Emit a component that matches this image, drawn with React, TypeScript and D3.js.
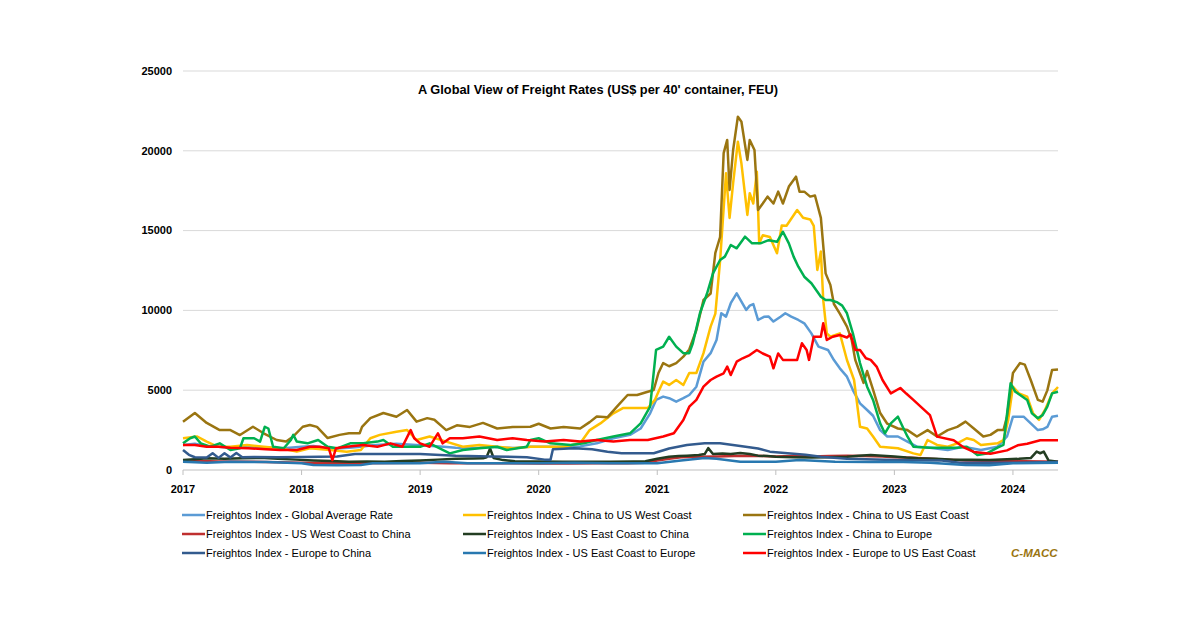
import React from 'react';
import * as d3 from 'd3';

// [decimal year, US$ per FEU]
const globalAvg: [number, number][] = [
  [2017.0, 1570], [2017.1, 1650], [2017.2, 1500], [2017.3, 1450], [2017.4, 1400], [2017.5, 1500],
  [2017.6, 1450], [2017.7, 1400], [2017.8, 1350], [2017.9, 1400], [2018.0, 1450], [2018.1, 1500],
  [2018.2, 1400], [2018.3, 1350], [2018.4, 1400], [2018.5, 1450], [2018.6, 1550], [2018.7, 1600],
  [2018.8, 1650], [2018.9, 1600], [2019.0, 1550], [2019.1, 1500], [2019.2, 1450], [2019.3, 1400],
  [2019.4, 1380], [2019.5, 1400], [2019.6, 1450], [2019.7, 1400], [2019.8, 1380], [2019.93, 1460],
  [2020.1, 1450], [2020.2, 1460], [2020.35, 1480], [2020.49, 1670], [2020.63, 1990], [2020.77, 2200],
  [2020.86, 2600], [2020.94, 3550], [2020.99, 4390], [2021.05, 4600], [2021.1, 4500], [2021.16, 4280],
  [2021.22, 4500], [2021.27, 4700], [2021.33, 5220], [2021.39, 6790], [2021.45, 7320], [2021.5, 8140],
  [2021.54, 9820], [2021.58, 9610], [2021.62, 10450], [2021.67, 11070], [2021.71, 10550], [2021.75, 10030],
  [2021.78, 10300], [2021.81, 10400], [2021.85, 9400], [2021.9, 9600], [2021.94, 9610], [2021.98, 9300],
  [2022.04, 9600], [2022.08, 9820], [2022.13, 9610], [2022.19, 9400], [2022.24, 9190], [2022.3, 8560],
  [2022.36, 7730], [2022.44, 7520], [2022.49, 6890], [2022.54, 6370], [2022.6, 5850], [2022.65, 5010],
  [2022.71, 4180], [2022.77, 3760], [2022.82, 3400], [2022.88, 2500], [2022.94, 2100], [2023.03, 2100],
  [2023.11, 1780], [2023.19, 1460], [2023.3, 1400], [2023.45, 1250], [2023.58, 1460], [2023.73, 1250],
  [2023.87, 1460], [2023.95, 2100], [2024.0, 3340], [2024.09, 3340], [2024.15, 2920], [2024.21, 2500],
  [2024.25, 2550], [2024.29, 2700], [2024.33, 3340], [2024.38, 3400],
];

const chinaUsWest: [number, number][] = [
  [2017.0, 1990], [2017.12, 2100], [2017.2, 1780], [2017.29, 1460], [2017.4, 1460], [2017.54, 1570],
  [2017.68, 1460], [2017.82, 1360], [2017.96, 1150], [2018.07, 1360], [2018.24, 1250], [2018.38, 1150],
  [2018.5, 1250], [2018.58, 1990], [2018.66, 2200], [2018.8, 2400], [2018.89, 2500], [2018.97, 1880],
  [2019.08, 2100], [2019.22, 1780], [2019.36, 1460], [2019.5, 1570], [2019.65, 1460], [2019.78, 1360],
  [2019.93, 1460], [2020.07, 1460], [2020.21, 1460], [2020.35, 1670], [2020.43, 2500], [2020.52, 2920],
  [2020.63, 3550], [2020.71, 3880], [2020.92, 3880], [2020.98, 4390], [2021.01, 4900], [2021.05, 5540],
  [2021.1, 5330], [2021.16, 5640], [2021.22, 5330], [2021.27, 6080], [2021.33, 6080], [2021.39, 7320],
  [2021.45, 8980], [2021.49, 9800], [2021.53, 13100], [2021.58, 18590], [2021.61, 15790], [2021.64, 17970],
  [2021.68, 20570], [2021.71, 19200], [2021.76, 15980], [2021.78, 17340], [2021.81, 16700], [2021.84, 18690],
  [2021.86, 14200], [2021.89, 14710], [2021.95, 14600], [2022.01, 13580], [2022.05, 15320], [2022.09, 15300],
  [2022.18, 16290], [2022.23, 15800], [2022.29, 15700], [2022.32, 15300], [2022.35, 12530], [2022.38, 13690],
  [2022.4, 10650], [2022.43, 8560], [2022.46, 8350], [2022.54, 8560], [2022.6, 6890], [2022.66, 5640],
  [2022.71, 2710], [2022.77, 2600], [2022.82, 2100], [2022.88, 1460], [2023.03, 1360], [2023.16, 1040],
  [2023.22, 940], [2023.28, 1880], [2023.36, 1570], [2023.45, 1460], [2023.53, 1670], [2023.61, 1990],
  [2023.67, 1880], [2023.73, 1570], [2023.87, 1670], [2023.92, 1880], [2023.96, 3140], [2024.0, 5220],
  [2024.05, 4800], [2024.12, 4600], [2024.17, 3550], [2024.22, 3140], [2024.27, 3760], [2024.33, 4800],
  [2024.38, 5200],
];

const chinaUsEast: [number, number][] = [
  [2017.0, 3030], [2017.1, 3570], [2017.2, 2950], [2017.31, 2500], [2017.4, 2500], [2017.48, 2190],
  [2017.59, 2710], [2017.68, 2300], [2017.79, 1880], [2017.87, 1780], [2017.93, 2100], [2018.01, 2710],
  [2018.07, 2820], [2018.13, 2700], [2018.22, 2000], [2018.32, 2200], [2018.4, 2300], [2018.49, 2300],
  [2018.51, 2700], [2018.58, 3250], [2018.69, 3570], [2018.8, 3340], [2018.89, 3760], [2018.97, 3030],
  [2019.06, 3250], [2019.12, 3150], [2019.22, 2500], [2019.31, 2800], [2019.42, 2700], [2019.53, 2950],
  [2019.65, 2600], [2019.78, 2700], [2019.93, 2710], [2020.0, 2900], [2020.1, 2600], [2020.21, 2700],
  [2020.35, 2600], [2020.43, 3000], [2020.49, 3350], [2020.58, 3300], [2020.66, 3970], [2020.75, 4700],
  [2020.83, 4700], [2020.92, 4900], [2020.97, 5010], [2021.01, 6080], [2021.05, 6700], [2021.1, 6500],
  [2021.16, 6700], [2021.22, 7100], [2021.27, 7550], [2021.33, 8770], [2021.39, 10650], [2021.45, 11060],
  [2021.49, 13600], [2021.53, 14600], [2021.56, 19850], [2021.59, 20680], [2021.61, 17550], [2021.64, 20050],
  [2021.68, 22140], [2021.71, 21820], [2021.76, 19430], [2021.78, 20680], [2021.82, 20050], [2021.85, 16290],
  [2021.89, 16700], [2021.93, 17130], [2021.98, 16700], [2022.02, 17440], [2022.06, 16700], [2022.11, 17760],
  [2022.17, 18380], [2022.2, 17440], [2022.24, 17440], [2022.29, 17130], [2022.33, 17200], [2022.38, 15800],
  [2022.42, 12320], [2022.46, 11600], [2022.49, 10400], [2022.54, 9800], [2022.6, 8980], [2022.64, 8150],
  [2022.67, 6900], [2022.71, 6080], [2022.74, 5460], [2022.77, 6200], [2022.82, 5030], [2022.88, 3570],
  [2022.94, 2900], [2023.03, 2600], [2023.11, 2500], [2023.19, 2100], [2023.28, 2500], [2023.36, 2100],
  [2023.45, 2500], [2023.53, 2700], [2023.6, 3030], [2023.67, 2600], [2023.75, 2100], [2023.81, 2200],
  [2023.87, 2500], [2023.92, 2500], [2023.95, 3350], [2024.0, 6080], [2024.06, 6700], [2024.1, 6600],
  [2024.15, 5640], [2024.21, 4390], [2024.25, 4280], [2024.29, 4990], [2024.33, 6270], [2024.38, 6300],
];

const usWestChina: [number, number][] = [
  [2017.0, 520], [2017.15, 560], [2017.3, 540], [2017.6, 520], [2017.8, 480], [2018.0, 450],
  [2018.25, 430], [2018.5, 420], [2018.75, 440], [2019.0, 450], [2019.25, 430], [2019.5, 420],
  [2019.75, 430], [2020.0, 400], [2020.25, 410], [2020.5, 420], [2020.75, 430], [2020.9, 450],
  [2021.0, 600], [2021.1, 700], [2021.2, 800], [2021.35, 830], [2021.5, 850], [2021.65, 880],
  [2021.8, 900], [2022.0, 850], [2022.15, 870], [2022.3, 850], [2022.45, 880], [2022.6, 900],
  [2022.75, 870], [2022.9, 850], [2023.0, 800], [2023.15, 760], [2023.3, 700], [2023.45, 650],
  [2023.6, 600], [2023.75, 580], [2023.9, 550], [2024.1, 550], [2024.25, 540], [2024.38, 520],
];

const usEastChina: [number, number][] = [
  [2017.0, 630], [2017.1, 680], [2017.2, 730], [2017.35, 700], [2017.5, 730], [2017.65, 760],
  [2017.8, 700], [2017.95, 650], [2018.1, 600], [2018.25, 560], [2018.4, 520], [2018.55, 530],
  [2018.7, 520], [2018.85, 560], [2019.0, 600], [2019.15, 650], [2019.3, 700], [2019.45, 720],
  [2019.53, 730], [2019.56, 800], [2019.59, 1350], [2019.62, 750], [2019.7, 620], [2019.8, 550],
  [2020.0, 530], [2020.2, 520], [2020.4, 510], [2020.6, 520], [2020.8, 530], [2020.9, 550],
  [2021.0, 700], [2021.1, 835], [2021.18, 880], [2021.25, 900], [2021.35, 940], [2021.4, 1000],
  [2021.43, 1370], [2021.47, 1000], [2021.55, 1040], [2021.62, 1000], [2021.7, 1060], [2021.78, 1000],
  [2021.85, 900], [2021.93, 870], [2022.0, 835], [2022.15, 800], [2022.3, 780], [2022.45, 800],
  [2022.6, 835], [2022.7, 900], [2022.8, 940], [2022.9, 900], [2023.0, 850], [2023.1, 780],
  [2023.2, 730], [2023.35, 700], [2023.5, 650], [2023.65, 640], [2023.8, 630], [2023.95, 680],
  [2024.05, 700], [2024.15, 750], [2024.2, 1150], [2024.23, 1050], [2024.26, 1150], [2024.3, 600],
  [2024.38, 520],
];

const chinaEurope: [number, number][] = [
  [2017.0, 1670], [2017.06, 1990], [2017.1, 2100], [2017.15, 1670], [2017.23, 1460], [2017.31, 1670],
  [2017.4, 1250], [2017.48, 1360], [2017.51, 1990], [2017.6, 1990], [2017.65, 1780], [2017.69, 2710],
  [2017.72, 2600], [2017.76, 1460], [2017.85, 1360], [2017.91, 1880], [2017.93, 2200], [2017.96, 1780],
  [2018.05, 1670], [2018.14, 1880], [2018.22, 1460], [2018.3, 1360], [2018.41, 1670], [2018.52, 1670],
  [2018.64, 1780], [2018.69, 1880], [2018.77, 1460], [2018.89, 1460], [2019.0, 1460], [2019.08, 1670],
  [2019.25, 1040], [2019.36, 1250], [2019.5, 1360], [2019.65, 1460], [2019.73, 1250], [2019.9, 1460],
  [2019.93, 1880], [2020.0, 1990], [2020.1, 1670], [2020.27, 1570], [2020.38, 1670], [2020.49, 1880],
  [2020.63, 2100], [2020.77, 2300], [2020.86, 2920], [2020.94, 3970], [2020.99, 7520], [2021.05, 7730],
  [2021.1, 8350], [2021.16, 7730], [2021.22, 7320], [2021.27, 7320], [2021.3, 7940], [2021.36, 9820],
  [2021.42, 11060], [2021.47, 12320], [2021.53, 13160], [2021.57, 13370], [2021.62, 14100], [2021.67, 13890],
  [2021.74, 14620], [2021.8, 14200], [2021.87, 14200], [2021.94, 14400], [2022.01, 14300], [2022.06, 14930],
  [2022.11, 14200], [2022.15, 13370], [2022.19, 12740], [2022.24, 12110], [2022.3, 11700], [2022.38, 10860],
  [2022.42, 10650], [2022.46, 10650], [2022.52, 10500], [2022.56, 10300], [2022.6, 9820], [2022.65, 8560],
  [2022.71, 6700], [2022.77, 5220], [2022.82, 4390], [2022.88, 2920], [2022.92, 2300], [2022.97, 2920],
  [2023.03, 3340], [2023.07, 2710], [2023.11, 2100], [2023.16, 1460], [2023.3, 1400], [2023.45, 1400],
  [2023.53, 1400], [2023.61, 1460], [2023.7, 940], [2023.78, 1040], [2023.87, 1400], [2023.92, 1570],
  [2023.98, 5430], [2024.02, 4900], [2024.06, 4700], [2024.12, 4390], [2024.16, 3550], [2024.21, 3240],
  [2024.25, 3440], [2024.29, 3970], [2024.33, 4800], [2024.38, 4900],
];

const europeChina: [number, number][] = [
  [2017.0, 1250], [2017.05, 950], [2017.1, 800], [2017.2, 780], [2017.25, 1050], [2017.3, 760],
  [2017.35, 1050], [2017.4, 780], [2017.45, 1060], [2017.5, 800], [2017.6, 820], [2017.8, 800],
  [2018.0, 820], [2018.3, 850], [2018.45, 1000], [2018.7, 1000], [2019.0, 1000], [2019.3, 900],
  [2019.6, 850], [2019.9, 800], [2020.05, 650], [2020.1, 650], [2020.12, 1300], [2020.3, 1370],
  [2020.45, 1300], [2020.58, 1150], [2020.7, 1050], [2020.97, 1050], [2021.1, 1350], [2021.25, 1570],
  [2021.4, 1670], [2021.53, 1670], [2021.7, 1500], [2021.85, 1350], [2021.95, 1150], [2022.1, 1050],
  [2022.25, 950], [2022.38, 830], [2022.6, 700], [2023.0, 630], [2023.4, 600], [2023.55, 450],
  [2024.0, 450], [2024.38, 500],
];

const usEastEurope: [number, number][] = [
  [2017.0, 520], [2017.2, 450], [2017.4, 520], [2017.7, 500], [2018.0, 420], [2018.1, 310],
  [2018.3, 300], [2018.5, 310], [2018.6, 420], [2019.0, 420], [2019.2, 520], [2019.4, 420],
  [2019.7, 420], [2020.0, 420], [2020.3, 450], [2020.6, 420], [2021.0, 420], [2021.2, 600],
  [2021.4, 750], [2021.5, 700], [2021.7, 520], [2022.0, 520], [2022.2, 620], [2022.5, 520],
  [2022.8, 500], [2023.0, 520], [2023.3, 450], [2023.6, 310], [2023.8, 300], [2024.0, 420],
  [2024.38, 450],
];

const europeUsEast: [number, number][] = [
  [2017.0, 1570], [2017.1, 1570], [2017.2, 1460], [2017.3, 1460], [2017.4, 1400], [2017.55, 1360],
  [2017.7, 1300], [2017.82, 1250], [2017.96, 1250], [2018.07, 1460], [2018.15, 1460], [2018.23, 1360],
  [2018.26, 620], [2018.29, 1360], [2018.38, 1460], [2018.52, 1570], [2018.64, 1460], [2018.75, 1670],
  [2018.85, 1460], [2018.92, 2500], [2018.95, 1990], [2019.0, 1670], [2019.08, 1460], [2019.15, 2300],
  [2019.19, 1670], [2019.25, 1990], [2019.36, 1990], [2019.5, 2100], [2019.65, 1880], [2019.78, 1990],
  [2019.9, 1880], [2020.05, 1780], [2020.21, 1880], [2020.35, 1780], [2020.49, 1880], [2020.63, 1780],
  [2020.77, 1880], [2020.92, 1880], [2021.05, 2100], [2021.14, 2300], [2021.22, 3130], [2021.27, 3970],
  [2021.33, 4390], [2021.39, 5220], [2021.45, 5640], [2021.5, 5850], [2021.56, 6060], [2021.59, 6480],
  [2021.62, 5950], [2021.67, 6790], [2021.72, 7000], [2021.78, 7200], [2021.84, 7520], [2021.89, 7300],
  [2021.95, 7100], [2021.98, 6370], [2022.02, 7300], [2022.06, 6900], [2022.12, 6900], [2022.18, 6900],
  [2022.22, 7940], [2022.26, 7520], [2022.28, 6900], [2022.32, 8350], [2022.38, 8350], [2022.4, 9190],
  [2022.43, 8150], [2022.48, 8350], [2022.54, 8460], [2022.6, 8300], [2022.63, 8500], [2022.67, 7520],
  [2022.71, 7520], [2022.76, 7000], [2022.8, 6900], [2022.85, 6480], [2022.9, 5640], [2022.97, 4800],
  [2023.05, 5140], [2023.1, 4790], [2023.16, 4390], [2023.24, 3850], [2023.3, 3440], [2023.36, 2090],
  [2023.5, 1860], [2023.58, 1440], [2023.67, 1130], [2023.81, 1020], [2023.95, 1230], [2024.04, 1550],
  [2024.12, 1650], [2024.23, 1860], [2024.38, 1860],
];

const seriesNames = [
  'Freightos Index - Global Average Rate',
  'Freightos Index - China to US West Coast',
  'Freightos Index - China to US East Coast',
  'Freightos Index - US West Coast to China',
  'Freightos Index - US East Coast to China',
  'Freightos Index - China to Europe',
  'Freightos Index - Europe to China',
  'Freightos Index - US East Coast to Europe',
  'Freightos Index - Europe to US East Coast',
];
const seriesData = [
  globalAvg, chinaUsWest, chinaUsEast, usWestChina, usEastChina,
  chinaEurope, europeChina, usEastEurope, europeUsEast,
];
const seriesColors = [
  '#5B9BD5', '#FFC000', '#9A7511', '#BF2F2F', '#233D22',
  '#00B050', '#335B8E', '#2878B0', '#FF0000',
];
const yTicks = [0, 5000, 10000, 15000, 20000, 25000];
const xTicks = [2017, 2018, 2019, 2020, 2021, 2022, 2023, 2024];

const W = 1200;
const H = 627;
const font = '"Liberation Sans", Arial, sans-serif';

export default function App() {
  const x = d3.scaleLinear().domain([2017, 2024.38]).range([183, 1058]);
  const y = d3.scaleLinear().domain([0, 25000]).range([470, 71]);
  const line = d3.line<[number, number]>()
    .x(d => x(d[0]))
    .y(d => y(d[1]));

  return (
    <svg width={W} height={H} style={{ position: 'absolute', left: 0, top: 0, background: '#fff' }}>
      {/* gridlines */}
      {yTicks.filter(t => t > 0).map(t => (
        <line key={t} x1={183} x2={1058} y1={y(t)} y2={y(t)} stroke="#D9D9D9" strokeWidth={1} />
      ))}
      {yTicks.map(t => (
        <text key={'yl' + t} x={172} y={y(t)} dy="0.35em" textAnchor="end"
          fontFamily={font} fontSize={11} fontWeight="bold" fill="#000">{t}</text>
      ))}

      <text x={598} y={90} dy="0.35em" textAnchor="middle" fontFamily={font}
        fontSize={12.8} fontWeight="bold" fill="#000">
        A Global View of Freight Rates (US$ per 40' container, FEU)
      </text>

      {/* series */}
      {seriesData.map((d, i) => (
        <path key={i} d={line(d) || ''} fill="none" stroke={seriesColors[i]}
          strokeWidth={2.5} strokeLinejoin="round" />
      ))}

      {/* x axis */}
      <line x1={183} x2={1058} y1={470} y2={470} stroke="#BFBFBF" strokeWidth={1} />
      {xTicks.map(t => (
        <g key={t}>
          <line x1={x(t)} x2={x(t)} y1={470} y2={475} stroke="#BFBFBF" />
          <text x={x(t)} y={489} dy="0.35em" textAnchor="middle" fontFamily={font}
            fontSize={11} fontWeight="bold" fill="#000">{t}</text>
        </g>
      ))}

      {/* legend */}
      {seriesNames.map((name, i) => {
        const col = i % 3;
        const row = Math.floor(i / 3);
        const lx = [182, 463, 743][col];
        const ly = 515 + row * 19;
        return (
          <g key={name}>
            <line x1={lx} x2={lx + 23} y1={ly} y2={ly} stroke={seriesColors[i]} strokeWidth={2.5} />
            <text x={lx + 24} y={ly} dy="0.35em" fontFamily={font} fontSize={11} fill="#000">{name}</text>
          </g>
        );
      })}
      <text x={1011} y={553} dy="0.35em" fontFamily={font} fontSize={11.5} fontWeight="bold"
        fontStyle="italic" fill="#9A7511">C-MACC</text>
    </svg>
  );
}
